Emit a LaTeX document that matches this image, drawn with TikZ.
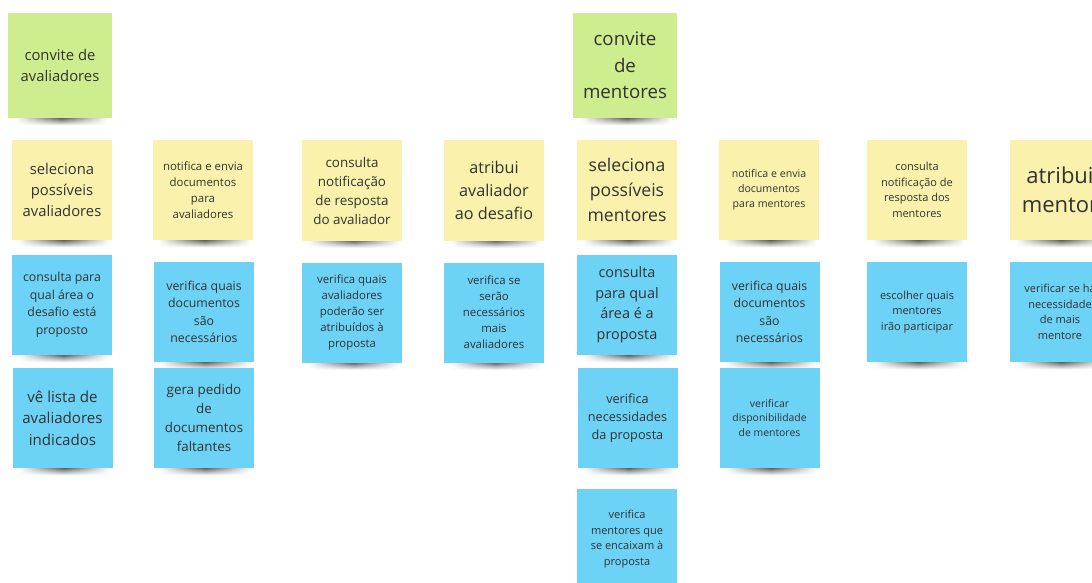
\documentclass[tikz,border=0pt]{standalone}
\usepackage{fontspec}
\setmainfont{Open Sans}
\usetikzlibrary{fadings}

\definecolor{notegreen}{RGB}{206,237,142}
\definecolor{noteyellow}{RGB}{250,242,172}
\definecolor{noteblue}{RGB}{108,210,246}
\definecolor{notetext}{RGB}{50,50,50}

\tikzfading[name=shadowends, left color=transparent!100, right color=transparent!100, middle color=transparent!0]
\pgfdeclarelayer{shadowlayer}
\pgfsetlayers{shadowlayer,main}

\tikzset{
  note/.style={minimum width=100pt, minimum height=100pt, inner sep=2pt, align=center, text=notetext},
  green note/.style={note, fill=notegreen, minimum width=104pt, minimum height=105pt},
  yellow note/.style={note, fill=noteyellow},
  blue note/.style={note, fill=noteblue},
  fs/.style 2 args={font=\fontsize{#1}{#2}\selectfont},
}

\begin{document}
\begin{tikzpicture}[x=1pt,y=-1pt]
	\useasboundingbox (0,0) rectangle (1092,583);
	\clip (0,0) rectangle (1092,583);

	% avaliadores
	\node[green note, fs={14.8}{21}] (evalinvite) at (60,65.5) {convite de\\avaliadores};
	\node[yellow note, fs={14.8}{21}] (evalselect) at (62,190) {seleciona\\possíveis\\avaliadores};
	\node[blue note, fs={12.3}{17.5}] (evalarea) at (62,305) {consulta para\\qual área o\\desafio está\\proposto};
	\node[blue note, fs={15.1}{21.5}] (evallist) at (62.5,418) {vê lista de\\avaliadores\\indicados};

	\node[yellow note, fs={11.4}{16}] (evalnotify) at (203,190) {notifica e envia\\documentos\\para\\avaliadores};
	\node[blue note, fs={12.3}{17.5}] (evaldocs) at (204,312) {verifica quais\\documentos\\são\\necessários};
	\node[blue note, fs={13.4}{19}] (evalrequest) at (204,418) {gera pedido\\de\\documentos\\faltantes};

	\node[yellow note, fs={13.4}{19}] (evalreply) at (352,190.5) {consulta\\notificação\\de resposta\\do avaliador};
	\node[blue note, fs={11.4}{16}] (evalcheck) at (352,312.5) {verifica quais\\avaliadores\\poderão ser\\atribuídos à\\proposta};

	\node[yellow note, fs={16.2}{23}] (evalassign) at (494,190.5) {atribui\\avaliador\\ao desafio};
	\node[blue note, fs={11.4}{16}] (evalmore) at (494,312.5) {verifica se\\serão\\necessários\\mais\\avaliadores};

	% mentores
	\node[green note, fs={18.7}{26.5}] (mentinvite) at (625,65.5) {convite\\de\\mentores};
	\node[yellow note, fs={17.6}{25}] (mentselect) at (627,190) {seleciona\\possíveis\\mentores};
	\node[blue note, fs={14.4}{20.5}] (mentarea) at (627,305) {consulta\\para qual\\área é a\\proposta};
	\node[blue note, fs={12.7}{18}] (mentneeds) at (627.5,418) {verifica\\necessidades\\da proposta};
	\node[blue note, fs={11}{15.7}] (mentmatch) at (627,539) {verifica\\mentores que\\se encaixam à\\proposta};

	\node[yellow note, fs={10.6}{15}] (mentnotify) at (769,190) {notifica e envia\\documentos\\para mentores};
	\node[blue note, fs={12.3}{17.5}] (mentdocs) at (769.5,312) {verifica quais\\documentos\\são\\necessários};
	\node[blue note, fs={10.4}{14.7}] (mentavail) at (769.5,418) {verificar\\disponibilidade\\de mentores};

	\node[yellow note, fs={11}{15.7}] (mentreply) at (917,190) {consulta\\notificação de\\resposta dos\\mentores};
	\node[blue note, fs={11}{15.8}] (mentchoose) at (917,312) {escolher quais\\mentores\\irão participar};

	\node[yellow note, fs={22}{29}] (mentassign) at (1060,190) {atribui\\mentor};
	\node[blue note, fs={11}{15.5}] (mentmore) at (1060,312) {verificar se há\\necessidade\\de mais\\mentore};

	% sombras
	\begin{pgfonlayer}{shadowlayer}
		\fill[white] (0,0) rectangle (1092,583);
		\foreach \n in {evalinvite,evalselect,evalarea,evallist,evalnotify,evaldocs,evalrequest,evalreply,evalcheck,evalassign,evalmore,mentinvite,mentselect,mentarea,mentneeds,mentmatch,mentnotify,mentdocs,mentavail,mentreply,mentchoose,mentassign,mentmore}
			\shade[top color=black!70, bottom color=white, path fading=shadowends] ([xshift=-44pt,yshift=1pt]\n.south) rectangle ([xshift=47pt,yshift=-7pt]\n.south);
	\end{pgfonlayer}
\end{tikzpicture}
\end{document}
